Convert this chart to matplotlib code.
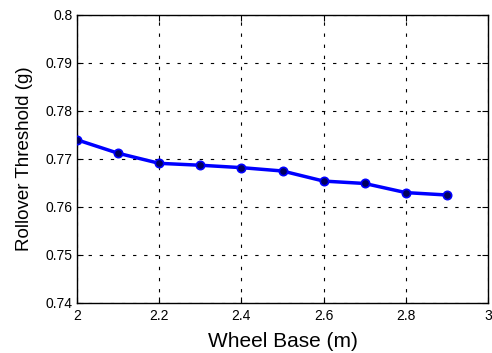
import matplotlib
matplotlib.use("Agg")
from matplotlib import pyplot as plt

# data
wheel_base = [2.0, 2.1, 2.2, 2.3, 2.4, 2.5, 2.6, 2.7, 2.8, 2.9]
rollover = [0.7740, 0.7712, 0.7691, 0.7687, 0.7682, 0.7675, 0.7654, 0.7649, 0.7630, 0.7625]
x_ticks = [2, 2.2, 2.4, 2.6, 2.8, 3]
x_labels = ["2", "2.2", "2.4", "2.6", "2.8", "3"]
y_ticks = [0.74, 0.75, 0.76, 0.77, 0.78, 0.79, 0.80]
y_labels = ["0.74", "0.75", "0.76", "0.77", "0.78", "0.79", "0.8"]

plt.rcParams['font.family'] = ['Liberation Sans', 'DejaVu Sans']

fig = plt.figure(figsize=(4.92, 3.53), dpi=100)
ax = fig.add_axes([77 / 492, 1 - 303 / 353, 411 / 492, 288 / 353])

ax.plot(wheel_base, rollover, color='blue', linewidth=2.5, marker='o',
        markersize=6, markerfacecolor='#000060', markeredgecolor='blue',
        markeredgewidth=1.2, zorder=3)

ax.set_xlim(2, 3)
ax.set_ylim(0.74, 0.80)
ax.set_xticks(x_ticks)
ax.set_xticklabels(x_labels)
ax.set_yticks(y_ticks)
ax.set_yticklabels(y_labels)

ax.grid(True, color='black', linestyle=(0, (3, 7)), linewidth=0.8)
ax.tick_params(direction='in', top=True, right=True, length=4, width=0.8,
               labelsize=10, colors='black')
ax.tick_params(axis='x', pad=4)
ax.tick_params(axis='y', pad=3)
for sp in ax.spines.values():
    sp.set_linewidth(1.0)
    sp.set_color('black')

ax.set_xlabel("Wheel Base (m)", fontsize=15, labelpad=7)
ax.set_ylabel("Rollover Threshold (g)", fontsize=13.5, labelpad=9)

fig.savefig("out.png", dpi=100)
